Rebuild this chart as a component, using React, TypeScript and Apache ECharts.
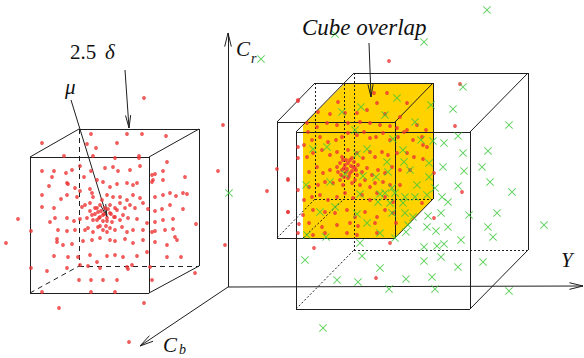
import React, { useEffect, useRef } from "react";
import * as echarts from "echarts";

type P = [number, number];

// Red samples around the left mean (pixel-space coordinates of the figure)
const LEFT_CLOUD: P[] = [
  [144,98],[42,143],[91,134],[127,134],[142,134],[166,136],[87,144],[96,148],[117,143],
  [64,156],[93,156],[115,158],[139,156],[139,158],[167,162],
  [42,171],[54,171],[66,173],[72,170],[80,166],[91,171],[105,168],[113,167],[118,171],[130,170],
  [140,166],[152,175],[155,174],[163,171],[185,177],
  [52,177],[84,177],[97,180],[103,182],[67,183],[68,184],[49,186],[75,188],[80,191],[90,189],
  [110,187],[117,184],[127,183],[133,185],[137,183],[152,182],[153,180],[163,180],
  [42,195],[67,195],[77,197],[92,193],[93,197],[102,200],[107,195],[113,197],[120,197],[127,200],
  [133,195],[140,198],[155,197],[163,195],[170,193],[176,196],[183,193],[187,194],
  [42,207],[54,208],[61,199],[82,207],[85,205],[90,203],[95,208],[98,212],[100,205],[105,208],
  [110,205],[115,208],[120,203],[125,208],[130,205],[135,208],[143,203],[148,209],[155,211],
  [162,209],[170,205],[183,209],
  [18,219],[50,222],[55,218],[67,218],[74,221],[80,219],[87,218],[92,215],[97,220],[100,217],
  [103,215],[107,218],[110,213],[115,217],[120,220],[123,215],[128,218],[137,219],[147,223],
  [155,222],[163,220],[173,219],[196,224],
  [31,231],[58,230],[67,231],[75,230],[85,230],[88,228],[93,232],[98,227],[103,230],[107,232],
  [110,228],[115,230],[122,227],[127,232],[133,230],[143,230],[152,232],[155,231],[165,230],[173,229],
  [6,243],[57,239],[57,242],[63,245],[72,244],[83,241],[92,240],[100,238],[110,240],[115,241],
  [125,239],[133,243],[143,240],[147,252],[155,242],[167,245],[175,237],[177,240],
  [54,256],[68,257],[78,257],[90,255],[97,262],[107,256],[115,255],[123,257],[137,256],[167,257],[181,257],
  [31,268],[47,271],[67,268],[80,265],[88,266],[100,268],[127,267],[128,269],[132,265],[150,267],[195,273],
  [79,280],[91,280],[103,280],[117,280],[152,280],
  [42,292],[91,292],[115,292],[59,308],[144,303],[129,342],
  [97,208],[101,211],[104,214],[108,209],[111,214],[99,218],[103,221],[107,221],[112,222],[95,214],
  [93,220],[100,226],[106,226],[114,217],[90,211],[117,210],
  [223,125],[218,171],[225,245],[267,191],[288,180],[288,212],[298,100],
];

// Red samples around the second mean, inside the overlap
const MID_CLOUD: P[] = [
  [389,61],[374,93],[387,93],[338,102],[330,114],[318,112],[345,113],[357,113],[367,110],[377,103],
  [385,114],[407,103],[400,117],[298,101],
  [307,123],[308,132],[317,127],[327,123],[337,125],[348,123],[360,122],[370,123],[380,125],[390,126],
  [397,128],[407,130],[417,125],
  [298,147],[304,145],[312,140],[320,137],[328,142],[336,140],[342,137],[348,133],[357,135],[364,132],
  [370,138],[376,137],[383,133],[390,140],[398,137],[404,132],[413,140],[422,137],
  [277,169],[298,158],[307,157],[313,153],[322,150],[330,155],[337,152],[342,157],[348,150],[352,158],
  [357,153],[363,158],[370,152],[375,157],[382,152],[388,155],[397,153],[407,153],[414,157],
  [288,179],[309,172],[317,167],[323,173],[330,170],[337,167],[342,170],[345,165],[347,169],[350,173],
  [353,167],[356,170],[358,165],[362,172],[367,168],[372,175],[378,170],[385,173],[392,167],[400,170],[410,170],
  [298,190],[309,187],[318,185],[325,182],[333,183],[340,180],[343,185],[348,178],[352,183],[355,180],
  [360,185],[365,180],[370,187],[375,183],[383,182],[390,185],[400,185],
  [304,200],[312,197],[320,195],[328,200],[337,197],[345,193],[353,198],[362,195],[370,200],[377,193],
  [385,197],[393,202],
  [288,212],[303,215],[313,210],[325,212],[335,213],[347,210],[355,217],[365,212],[377,217],[385,210],[393,213],
  [299,224],[309,223],[322,227],[337,225],[350,223],[358,226],[375,223],
  [298,233],[313,235],[325,233],[347,233],[357,235],[377,233],
  [344,168],[348,163],[351,166],[346,172],[354,162],[340,163],[349,176],[352,171],[343,160],[357,175],
  [338,172],[346,160],[355,168],[341,175],[350,160],[344,177],
  [460,84],[455,126],[426,130],[423,145],[427,147],[423,159],[434,173],[462,192],[422,203],[434,218],
  [396,223],[390,243],[314,248],[376,278],
];

// Green crosses
const GREEN_X: P[] = [
  [487,10],[424,42],[335,34],[261,59],[229,193],
  [397,98],[361,107],[342,112],[385,115],[415,122],[431,105],[453,109],[463,87],[509,125],
  [355,130],[313,149],[327,147],[367,149],[357,154],[393,139],[403,150],[421,140],[433,141],[444,143],
  [458,136],[463,153],[488,151],
  [387,162],[404,162],[410,170],[429,163],[443,167],[464,171],[482,167],[388,172],[345,174],[363,176],
  [376,177],[330,182],[306,185],[417,185],[429,177],[435,188],[458,186],[490,182],[392,188],
  [360,194],[380,194],[385,193],[395,193],[405,197],[415,197],[427,195],[442,197],[448,202],[512,192],
  [378,202],[390,203],[403,203],
  [320,212],[335,207],[357,214],[392,213],[405,213],[413,217],[428,216],[441,213],[469,215],[497,213],
  [367,223],[408,225],[427,227],[436,231],[448,227],[488,227],[544,225],
  [307,235],[326,237],[380,233],[395,238],[406,232],[437,246],[424,247],[444,244],[461,240],[493,237],[360,243],
  [362,256],[305,260],[441,257],[424,261],[458,267],[483,262],[380,268],[337,280],[358,282],[406,279],
  [432,277],[389,289],[435,289],[509,291],[323,328],
];

// Cube corners: front TL, TR, BR, BL ; back TL, TR, BR, BL
const CUBE_LEFT_FRONT: P[] = [[30,157],[149,157],[149,293],[30,293]];
const CUBE_LEFT_BACK: P[] = [[79,129],[199,129],[199,266],[79,266]];
const CUBE_A_FRONT: P[] = [[277,122],[395,122],[395,238],[277,238]];
const CUBE_A_BACK: P[] = [[315,83],[433,83],[433,199],[315,199]];
const CUBE_B_FRONT: P[] = [[296,132],[470,132],[470,309],[296,309]];
const CUBE_B_BACK: P[] = [[354,73],[528,73],[528,250],[354,250]];
const OVERLAP_HULL: P[] = [[303,238],[395,238],[433,199],[433,83],[345,83],[303,125]];
const OVERLAP_HIDDEN: [P, P][] = [[[344,84],[344,199]], [[303,238],[344,199]]];

const AXES: [P, P][] = [[[228,287],[228,33]], [[228,287],[583,286]], [[228,287],[140,346]]];
const POINTERS: [P, P][] = [[[125,70],[129,128]], [[71,100],[107,217]], [[369,43],[371,97]]];

const INK = "#1e1e1e";
const RED = "#ee3434";
const GREEN = "#3cc83c";
const YELLOW = "#ffd200";
const SERIF = "'Liberation Serif', 'DejaVu Serif', serif";

function cubeEdges(front: P[], back: P[], hiddenType: any) {
  const solid: [P, P][] = [
    [front[0], front[1]], [front[1], front[2]], [front[2], front[3]], [front[3], front[0]],
    [front[0], back[0]], [back[0], back[1]], [front[1], back[1]], [back[1], back[2]], [front[2], back[2]],
  ];
  const hidden: [P, P][] = [[back[0], back[3]], [back[3], back[2]], [front[3], back[3]]];
  return [
    ...solid.map((s) => ({ coords: s, lineStyle: { type: "solid" } })),
    ...hidden.map((s) => ({ coords: s, lineStyle: { type: hiddenType } })),
  ];
}

function arrow(seg: [P, P], len = 13, ang = 0.24) {
  const [a, b] = seg;
  const t = Math.atan2(b[1] - a[1], b[0] - a[0]);
  const h1: P = [b[0] - len * Math.cos(t - ang), b[1] - len * Math.sin(t - ang)];
  const h2: P = [b[0] - len * Math.cos(t + ang), b[1] - len * Math.sin(t + ang)];
  return [
    { coords: [a, b], lineStyle: { type: "solid" } },
    { coords: [h1, b], lineStyle: { type: "solid" } },
    { coords: [h2, b], lineStyle: { type: "solid" } },
  ];
}

function txt(text: string, x: number, y: number, size: number, italic: boolean) {
  return {
    type: "text",
    x,
    y,
    z: 10,
    style: {
      text,
      fill: "#111",
      fontSize: size,
      fontFamily: SERIF,
      fontStyle: italic ? "italic" : "normal",
      textAlign: "left",
      textVerticalAlign: "middle",
      align: "left",
      verticalAlign: "middle",
    },
  };
}

export default function App() {
  const ref = useRef<HTMLDivElement>(null);
  useEffect(() => {
    if (!ref.current) return;
    document.body.style.margin = "0";
    const chart = echarts.init(ref.current, undefined, { renderer: "svg" });
    const lineData = [
      ...cubeEdges(CUBE_LEFT_FRONT, CUBE_LEFT_BACK, [5, 4]),
      ...cubeEdges(CUBE_A_FRONT, CUBE_A_BACK, [2, 2]),
      ...cubeEdges(CUBE_B_FRONT, CUBE_B_BACK, [2, 2]),
      ...OVERLAP_HIDDEN.map((s) => ({ coords: s, lineStyle: { type: [2, 2] } })),
      ...AXES.flatMap((s) => arrow(s, 14, 0.24)),
      ...POINTERS.flatMap((s) => arrow(s, 13, 0.2)),
    ];
    chart.setOption({
      animation: false,
      backgroundColor: "#ffffff",
      grid: { left: 0, right: 0, top: 0, bottom: 0, containLabel: false },
      xAxis: { type: "value", min: 0, max: 584, show: false },
      yAxis: { type: "value", min: 0, max: 358, inverse: true, show: false },
      tooltip: { show: false },
      series: [
        {
          type: "custom",
          z: 1,
          silent: true,
          data: [[0, 0]],
          renderItem: (_params: any, api: any) => ({
            type: "polygon",
            shape: { points: OVERLAP_HULL.map((p) => api.coord(p)) },
            style: { fill: YELLOW, stroke: "none" },
          }),
        },
        {
          type: "lines",
          coordinateSystem: "cartesian2d",
          z: 2,
          silent: true,
          lineStyle: { color: INK, width: 1, opacity: 1 },
          data: lineData,
        },
        {
          type: "scatter",
          z: 3,
          silent: true,
          symbol: "circle",
          symbolSize: 3.8,
          itemStyle: { color: RED },
          data: [...LEFT_CLOUD, ...MID_CLOUD],
        },
        {
          type: "scatter",
          z: 4,
          silent: true,
          symbol: "path://M0,0.8L0.8,0L5,4.2L9.2,0L10,0.8L5.8,5L10,9.2L9.2,10L5,5.8L0.8,10L0,9.2L4.2,5Z",
          symbolSize: 8,
          itemStyle: { color: GREEN },
          data: GREEN_X,
        },
      ],
      graphic: [
        txt("2.5", 70, 52, 21, false),
        txt("δ", 105, 52, 21, true),
        txt("μ", 65, 87, 21, true),
        txt("C", 236, 49, 21, true),
        txt("r", 251, 58, 14, true),
        txt("Cube overlap", 302, 27, 23, true),
        txt("Y", 561, 260, 21, true),
        txt("C", 163, 345, 21, true),
        txt("b", 179, 349, 14, true),
      ],
    });
    return () => chart.dispose();
  }, []);
  return (
    <div
      ref={ref}
      style={{ position: "relative", width: 584, height: 358, background: "#fff" }}
    />
  );
}
